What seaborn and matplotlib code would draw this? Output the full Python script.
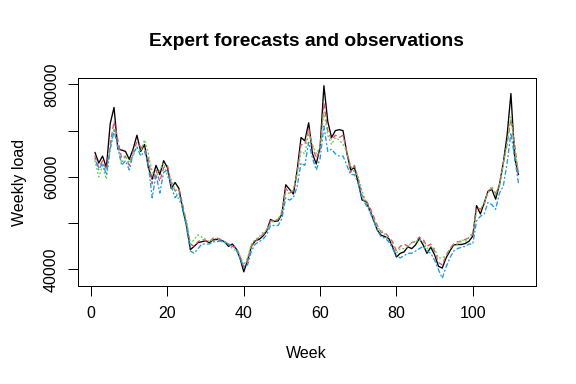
import numpy as np
import pandas as pd
import matplotlib
matplotlib.use("Agg")
import matplotlib.pyplot as plt
import seaborn as sns

weeks = list(range(1, 113))

observed = [
    65300, 63000, 64500, 62000, 71500, 75000, 66000, 65800, 65500, 63800,
    66000, 69000, 65500, 67000, 62000, 59500, 62500, 60500, 63500, 62000,
    57500, 58800, 57500, 53000, 49500, 44300, 45000, 45800, 46000, 46200,
    45800, 46400, 46500, 46300, 46000, 45000, 45500, 44500, 42500, 39500,
    42000, 45000, 46200, 46500, 47200, 48300, 50800, 50400, 50500, 52000,
    58300, 57300, 56300, 61500, 68500, 67800, 71700, 65000, 62800, 66500,
    79700, 72000, 68500, 70000, 70200, 70000, 65200, 61500, 62000, 58700,
    55000, 54700, 52900, 50700, 48500, 47400, 47100, 46700, 44900, 42700,
    43500, 43800, 44900, 44500, 45300, 46700, 45300, 43500, 44800, 43200,
    40700, 40300, 42500, 44000, 45300, 45400, 45400, 45600, 46100, 47200,
    53800, 52000, 54400, 56900, 57300, 55200, 58400, 63000, 69000, 78000,
    64000, 60500,
]

expert1 = [
    64500, 62000, 63500, 61500, 67000, 72000, 68000, 64000, 64500, 62500,
    65500, 67500, 66500, 66000, 64000, 58500, 61500, 59000, 62000, 62500,
    58500, 57000, 57500, 54000, 50000, 45500, 45000, 46000, 46500, 46300,
    46000, 46800, 46800, 46500, 46000, 45500, 45000, 44800, 43000, 40500,
    41800, 45000, 46000, 47000, 47500, 48500, 50500, 50500, 50800, 52500,
    57500, 56500, 57000, 61000, 67000, 67000, 70500, 66500, 64000, 66000,
    76000, 70000, 68000, 69000, 68500, 69000, 65500, 61000, 62500, 59500,
    56000, 55000, 53500, 51500, 49500, 48000, 48000, 47000, 46000, 44000,
    45000, 45500, 45000, 45800, 46000, 47000, 46500, 45000, 45500, 44000,
    41500, 41000, 43000, 44500, 45500, 46000, 46000, 46500, 46800, 47500,
    53500, 53000, 54000, 57000, 57500, 56500, 58000, 63000, 67000, 72500,
    67000, 60000,
]

expert2 = [
    63500, 60000, 62500, 59500, 66000, 70500, 66500, 63000, 64500, 63000,
    64500, 66500, 65500, 68000, 65000, 61000, 60000, 61500, 63000, 60000,
    59500, 57000, 55000, 53500, 50500, 45500, 46500, 47500, 47000, 46500,
    46000, 46500, 46800, 46000, 46000, 45500, 44500, 44000, 43000, 41000,
    42500, 45500, 46500, 47000, 48000, 48500, 50000, 50500, 51000, 52000,
    56500, 56500, 57500, 60500, 65500, 65000, 69500, 67000, 65000, 66500,
    74000, 69000, 67000, 68500, 68000, 67000, 65500, 62500, 61000, 60000,
    57000, 54500, 53000, 51000, 49000, 48500, 47500, 46000, 45500, 43500,
    44500, 44500, 45000, 45800, 46000, 46500, 46000, 44500, 45000, 44500,
    42500, 42500, 43000, 44500, 45500, 45500, 46500, 46000, 47000, 48000,
    52500, 53000, 54500, 56500, 58000, 56000, 58500, 62500, 67500, 73000,
    66000, 61000,
]

expert3 = [
    64000, 61500, 63000, 60500, 66000, 70000, 66500, 62500, 63500, 61500,
    65000, 66500, 64500, 65500, 62500, 55500, 60500, 56500, 61000, 61500,
    58000, 55500, 56500, 53500, 49000, 44000, 43500, 44500, 45500, 45500,
    45500, 46000, 46000, 46200, 45800, 45500, 45000, 44500, 42500, 40500,
    41000, 44000, 45500, 46000, 46500, 47500, 49500, 49500, 49500, 51000,
    55500, 55000, 55500, 58000, 63000, 62500, 67500, 64000, 61500, 64000,
    71000, 65500, 66000, 65000, 64500, 64500, 62500, 60500, 60500, 58500,
    55500, 54000, 52500, 50500, 48500, 47000, 46800, 46000, 44500, 43000,
    42500, 43000, 43500, 43500, 44000, 44500, 45000, 44000, 43500, 42000,
    40000, 38100, 40500, 42500, 44000, 44500, 44800, 45000, 45500, 45500,
    50500, 51500, 52000, 54500, 54000, 53000, 56500, 58000, 63000, 69500,
    64000, 58500,
]

series_names = ["obs", "e1", "e2", "e3"]
series_colors = ["#000000", "#DF536B", "#61D04F", "#2297E6"]
series_dashes = ["", (3, 3), (0.75, 2.25), (0.75, 2.25, 3, 2.25)]

x_ticks = [0, 20, 40, 60, 80, 100]
y_ticks = [40000, 50000, 60000, 70000, 80000]
y_tick_labels = ["40000", "", "60000", "", "80000"]

title = "Expert forecasts and observations"
xlabel = "Week"
ylabel = "Weekly load"

# ---- build long table ----
values = [observed, expert1, expert2, expert3]
frames = []
for name, vals in zip(series_names, values):
    assert len(vals) == len(weeks)
    frames.append(pd.DataFrame({"week": weeks, "load": vals, "series": name}))
df = pd.concat(frames, ignore_index=True)

sns.set_style("white")
plt.rcParams["font.family"] = ["Liberation Sans", "DejaVu Sans"]
plt.rcParams["lines.dash_capstyle"] = "round"
plt.rcParams["lines.solid_capstyle"] = "round"

W, H, DPI = 576, 384, 96
fig = plt.figure(figsize=(W / DPI, H / DPI), dpi=DPI)
L, R, T, B = 78, 535.5, 78, 286
ax = fig.add_axes([L / W, 1 - B / H, (R - L) / W, (B - T) / H])

sns.lineplot(
    data=df, x="week", y="load", hue="series", style="series",
    hue_order=series_names, style_order=series_names,
    palette=dict(zip(series_names, series_colors)),
    dashes=dict(zip(series_names, series_dashes)),
    linewidth=1.0, legend=False, ax=ax, estimator=None, sort=False,
)

# R-style 4% range extension
xmin, xmax = min(weeks), max(weeks)
xr = xmax - xmin
ax.set_xlim(xmin - 0.04 * xr, xmax + 0.04 * xr)
allv = df["load"]
ymin, ymax = allv.min(), allv.max()
yr = ymax - ymin
ax.set_ylim(ymin - 0.04 * yr, ymax + 0.04 * yr)

ax.set_xticks(x_ticks)
ax.set_xticklabels([str(t) for t in x_ticks])
ax.set_yticks(y_ticks)
ax.set_yticklabels(y_tick_labels, rotation=90, va="center")

for s in ax.spines.values():
    s.set_visible(True)
    s.set_color("black")
    s.set_linewidth(0.75)

ax.tick_params(axis="both", which="major", direction="out", length=7.2,
               width=0.75, color="black", labelsize=12, labelcolor="black",
               bottom=True, left=True)
ax.tick_params(axis="x", pad=7.5)
ax.tick_params(axis="y", pad=7)

ax.set_xlabel(xlabel, fontsize=12, color="black")
ax.set_ylabel(ylabel, fontsize=12, color="black")
ax.xaxis.set_label_coords(0.5, (B - 354) / (B - T))
ax.xaxis.label.set_va("center")
ax.yaxis.set_label_coords((19 - L) / (R - L), 0.5)
ax.yaxis.label.set_va("center")
ax.yaxis.label.set_ha("center")

fig.text(0.5 * (L + R) / W, 1 - 42 / H, title, ha="center", va="center",
         fontsize=14.4, fontweight="bold", color="black")

fig.savefig("out.png", dpi=DPI, facecolor="white")
